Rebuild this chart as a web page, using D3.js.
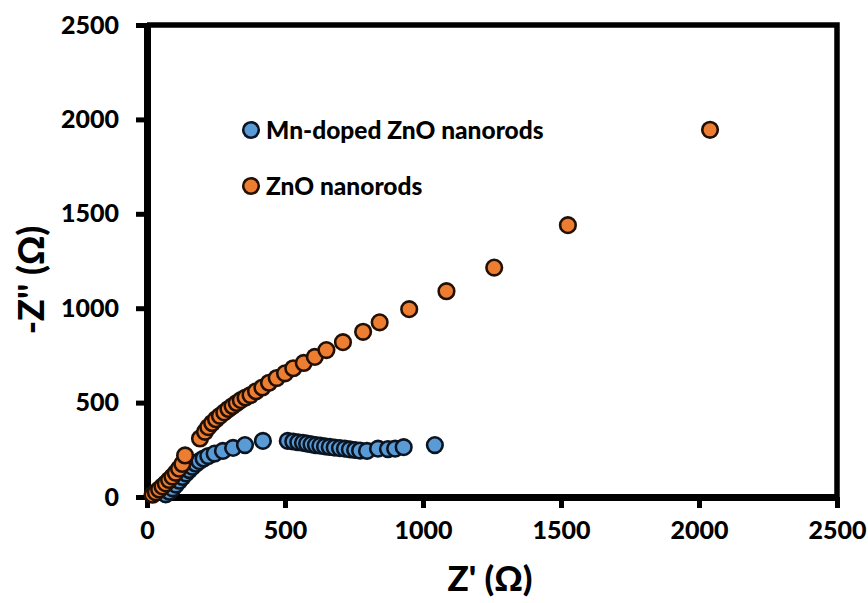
<!DOCTYPE html>
<html>
<head>
<meta charset="utf-8">
<script src="https://cdn.jsdelivr.net/npm/d3@7"></script>
<style>
  body { margin: 0; background: #fff; }
  svg { display: block; }
  text { font-family: Lato, "Open Sans", sans-serif; font-weight: 900; fill: #000; }
</style>
</head>
<body>
<svg id="chart" width="868" height="603"></svg>
<script>
// data (Z' in ohm, -Z'' in ohm)
const seriesNames = ["Mn-doped ZnO nanorods", "ZnO nanorods"];
const seriesColors = ["#5b9bd5", "#ed7d31"];

const mnZre = [68, 81, 93, 105, 117, 129, 141, 153, 165, 177, 190, 205, 222, 245, 275, 312, 355, 420,
  510, 530, 548, 565, 580, 596, 612, 628, 645, 662, 680, 699, 717, 735, 754, 772, 797, 837, 873, 899, 930, 1043];
const mnZim = [14, 28, 46, 66, 86, 106, 125, 143, 160, 176, 190, 204, 217, 230, 244, 260, 275, 297,
  297, 294, 290, 287, 283, 279, 275, 272, 268, 265, 262, 259, 256, 252, 249, 246, 244, 256, 254, 256, 264, 275];

const znoZre = [20, 32, 44, 56, 68, 80, 92, 104, 116, 128, 138, 192, 210, 222, 236, 250, 264, 280, 295, 310,
  325, 340, 357, 375, 395, 418, 442, 470, 500, 530, 568, 608, 650, 710, 783, 843, 950, 1085, 1258, 1525, 2040];
const znoZim = [12, 25, 40, 56, 72, 90, 108, 128, 150, 175, 220, 310, 345, 370, 392, 412, 430, 448, 466, 482,
  498, 513, 527, 540, 560, 580, 605, 630, 655, 682, 710, 742, 778, 820, 875, 925, 995, 1090, 1215, 1440, 1945];

const xTicks = [0, 500, 1000, 1500, 2000, 2500];
const yTicks = [0, 500, 1000, 1500, 2000, 2500];

const svg = d3.select("#chart");
const mLeft = 147, mRight = 837, mTop = 25, mBottom = 497;

const x = d3.scaleLinear().domain([0, 2500]).range([mLeft, mRight]);
const y = d3.scaleLinear().domain([0, 2500]).range([mBottom, mTop]);

// frame (top + right)
svg.append("path")
  .attr("d", `M${mLeft},${mTop}H${mRight}V${mBottom}`)
  .attr("fill", "none")
  .attr("stroke", "#000")
  .attr("stroke-width", 5.5);

// axes
const xAxis = svg.append("g")
  .attr("transform", `translate(0,${mBottom})`)
  .call(d3.axisBottom(x).tickValues(xTicks).tickFormat(d3.format("d"))
    .tickSize(11).tickSizeOuter(0).tickPadding(8));
const yAxis = svg.append("g")
  .attr("transform", `translate(${mLeft},0)`)
  .call(d3.axisLeft(y).tickValues(yTicks).tickFormat(d3.format("d"))
    .tickSize(11).tickSizeOuter(0).tickPadding(17));

[xAxis, yAxis].forEach(g => {
  g.select(".domain").attr("stroke-width", 7).attr("stroke", "#000");
  g.selectAll(".tick line").attr("stroke-width", 5).attr("stroke", "#000");
  g.selectAll(".tick text").style("font-size", "25px").style("font-family", "Lato").style("font-weight", "900").attr("fill", "#000");
});
xAxis.selectAll(".tick text").attr("dy", "0.9em");

// points
const mn = mnZre.map((v, i) => ({ zr: v, zi: mnZim[i] }));
const zno = znoZre.map((v, i) => ({ zr: v, zi: znoZim[i] }));

[[mn, 0], [zno, 1]].forEach(([data, k]) => {
  svg.append("g").selectAll("circle")
    .data(data)
    .join("circle")
    .attr("cx", d => x(d.zr))
    .attr("cy", d => y(d.zi))
    .attr("r", 7.8)
    .attr("fill", seriesColors[k])
    .attr("stroke", k === 0 ? "#0b1522" : "#221005")
    .attr("stroke-width", 2.6);
});

// legend
const legend = svg.append("g");
seriesNames.forEach((name, i) => {
  const row = legend.append("g").attr("transform", `translate(251,${130 + i * 56})`);
  row.append("circle").attr("r", 7.8).attr("fill", seriesColors[i])
    .attr("stroke", i === 0 ? "#0b1522" : "#221005").attr("stroke-width", 2.6);
  row.append("text").attr("x", 15).attr("dy", "0.36em").style("font-size", "24.5px").text(name);
});

// axis titles
svg.append("text")
  .attr("x", 490)
  .attr("y", 591)
  .attr("text-anchor", "middle")
  .style("font-size", "35px")
  .text("Z' (Ω)");

svg.append("text")
  .attr("transform", `translate(44,280) rotate(-90)`)
  .attr("text-anchor", "middle")
  .style("font-size", "36px")
  .text("-Z'' (Ω)");
</script>
</body>
</html>
